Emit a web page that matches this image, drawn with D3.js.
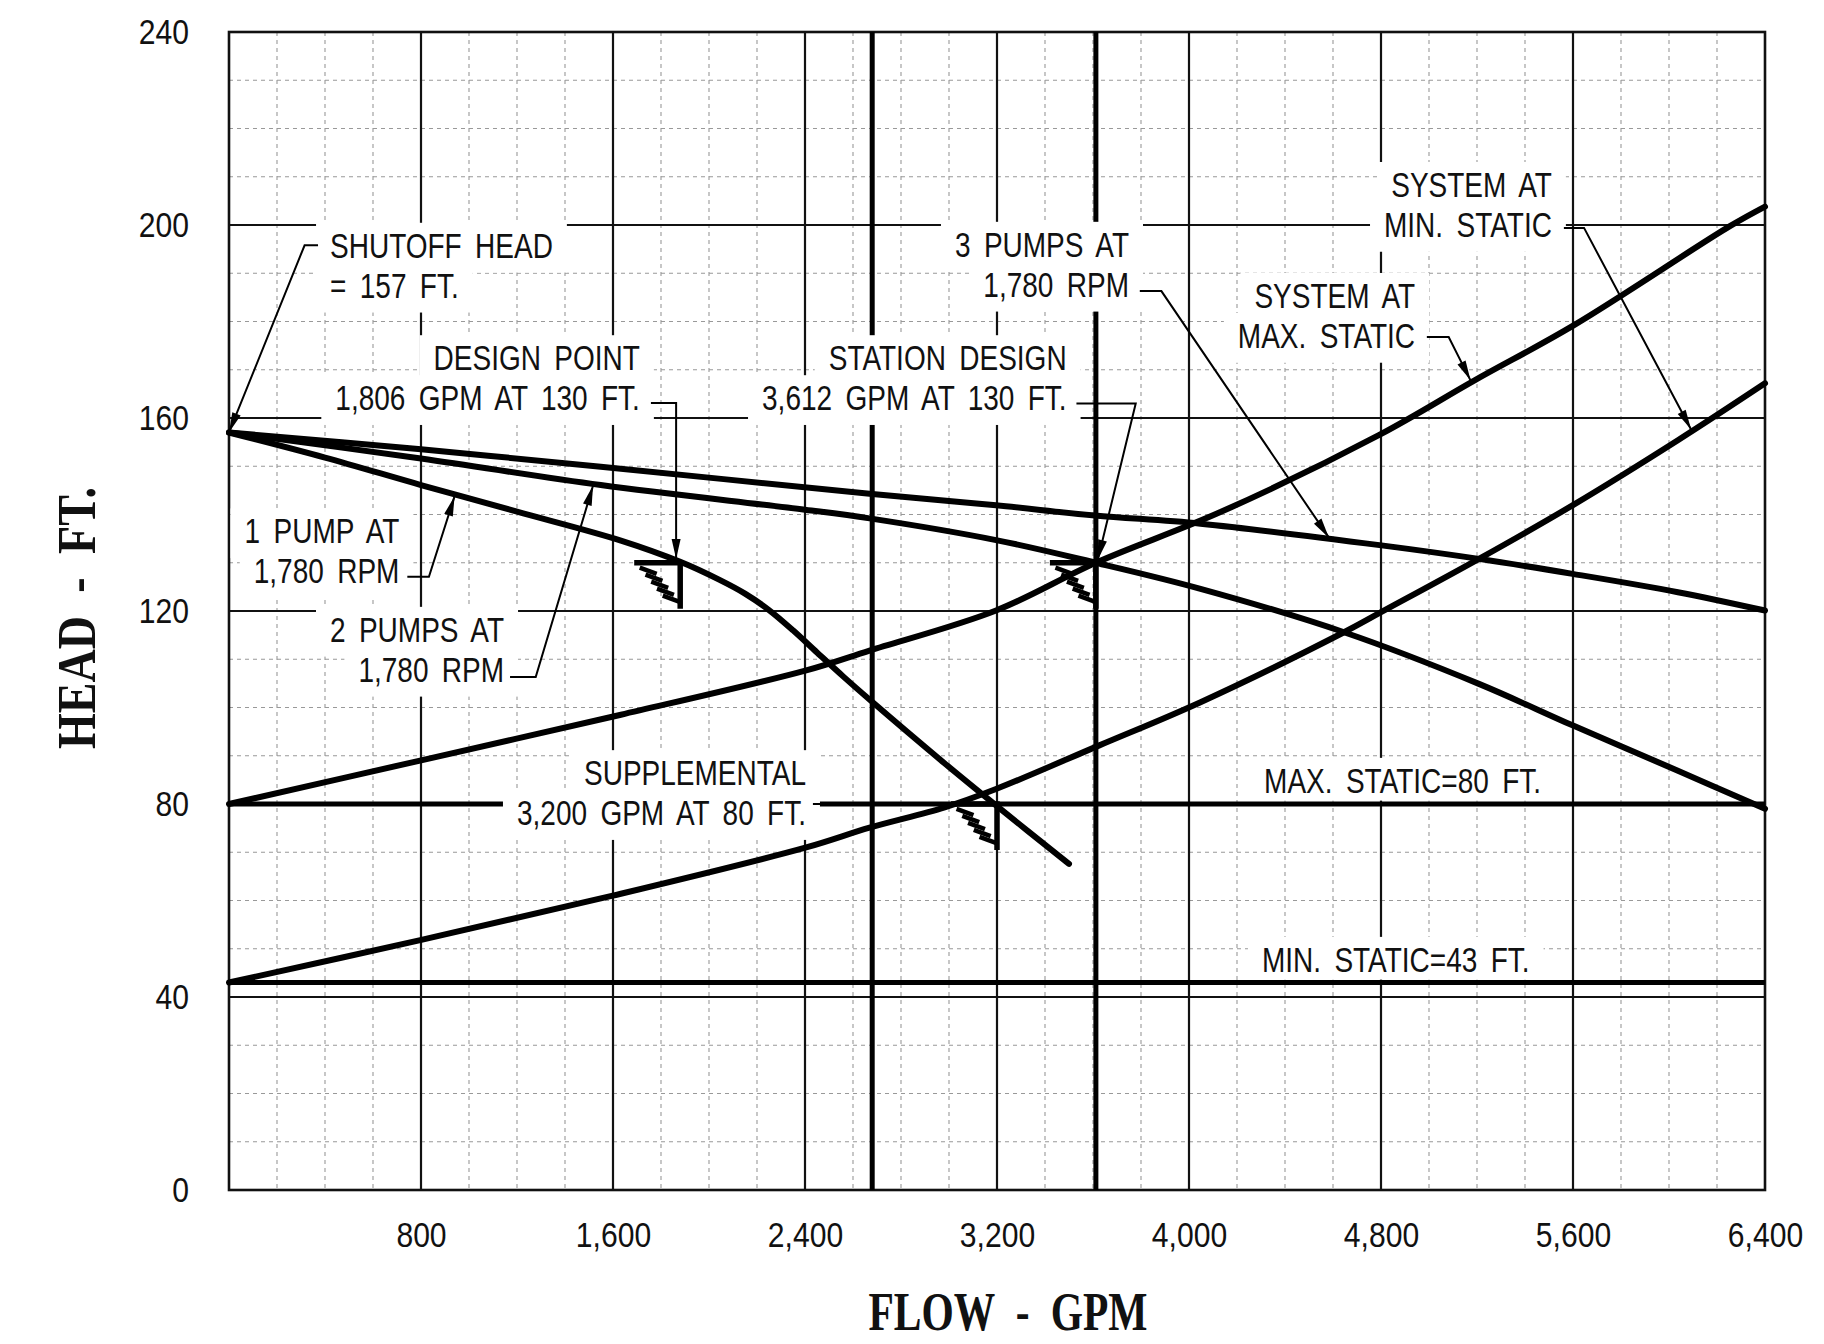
<!DOCTYPE html>
<html><head><meta charset="utf-8">
<script src="https://cdn.jsdelivr.net/npm/d3@7"></script>
<style>
html,body{margin:0;padding:0;background:#fff;}
svg{display:block;background:#fff;}
.tick text,.ann{font-family:'Liberation Sans',Arial,sans-serif;font-size:35px;fill:#111;}
.ann{word-spacing:7px;}
.title{font-family:'Liberation Serif','DejaVu Serif',serif;font-weight:bold;font-size:54px;fill:#111;word-spacing:14px;}
</style></head><body>
<svg id="chart" width="1824" height="1344"></svg>
<script>
// ---------------- DATA ----------------
const xTicks = [800, 1600, 2400, 3200, 4000, 4800, 5600, 6400];
const yTicks = [0, 40, 80, 120, 160, 200, 240];

// pump curves [GPM, head ft]
const onePump = [[0,157],[400,151.8],[800,146.1],[1200,140.6],[1633,134.6],[1880,130.2],[2042,126.5],[2150,123.6],[2250,120.2],[2350,116.0],[2450,111.4],[2560,106.4],[2670,101.6],[2980,88.5],[3196,79.7],[3500,67.6]];
const twoPumps = [[0,157],[800,151.6],[1549,146.1],[2400,141],[2669,139.2],[3196,134.7],[3612,130],[4048,124.6],[4646,115.6],[5208,104.9],[5598,96.3],[6037,86.9],[6400,79]];
const threePumps = [[0,157],[800,153.5],[1549,149.9],[2669,144.3],[3196,141.9],[3607,139.8],[4048,138.1],[4802,133.6],[5208,130.8],[5598,127.7],[6037,123.9],[6400,120.1]];
// system curves
const systemMaxStatic = [[0,80],[796,89],[1633,98.5],[2405,107.7],[2669,111.8],[3196,120.1],[3612,130],[4131,140.5],[4793,156.5],[5190,167.8],[5606,179.3],[6252,199.7],[6400,203.8]];
const systemMinStatic = [[0,43],[797,51.8],[1599,61],[2405,71],[2669,75.1],[2982,79.3],[3196,83.1],[3624,92.1],[4048,101.1],[4646,115.6],[4802,119.8],[5208,130.8],[5598,141.9],[6037,155.4],[6400,167.2]];
// horizontal static heads, heavy vertical flow lines, hatched rating points
const staticHeads = [80, 43];
const referenceFlows = [2680, 3612];
const ratingPoints = [[1880,130],[3612,130],[3200,80]];

// annotation texts
const labelShutoff = ["SHUTOFF HEAD", "= 157 FT."];
const labelDesign = ["DESIGN POINT", "1,806 GPM AT 130 FT."];
const labelStation = ["STATION DESIGN", "3,612 GPM AT 130 FT."];
const labelThree = ["3 PUMPS AT", "1,780 RPM"];
const labelSysMin = ["SYSTEM AT", "MIN. STATIC"];
const labelSysMax = ["SYSTEM AT", "MAX. STATIC"];
const labelOne = ["1 PUMP AT", "1,780 RPM"];
const labelTwo = ["2 PUMPS AT", "1,780 RPM"];
const labelSupp = ["SUPPLEMENTAL", "3,200 GPM AT 80 FT."];
const labelMaxStatic = ["MAX. STATIC=80 FT."];
const labelMinStatic = ["MIN. STATIC=43 FT."];
const xTitle = "FLOW - GPM";
const yTitle = "HEAD - FT.";

// ---------------- LAYOUT ----------------
const plot = {left:229, right:1765, top:32, bottom:1190};
const lineGap = 40;
const textSX = 0.8;   // horizontal compression of the narrow drafting lettering
const tickSX = 0.86;
// annotation placement in data coordinates (first-line baseline anchor, leader path, arrow tip)
const annotations = [
  {lines:labelShutoff, anchor:"start", at:[421,193.2], leader:[[371,195.8],[315,195.8]], tip:[0,157]},
  {lines:labelDesign, anchor:"end", at:[1712,169.9], leader:[[1758,163.1],[1863,163.1]], tip:[1863,130.8]},
  {lines:labelStation, anchor:"end", at:[3490,169.9], leader:[[3531,163.0],[3778,163.0]], tip:[3620,130.6]},
  {lines:labelThree, anchor:"end", at:[3750,193.4], leader:[[3795,186.3],[3885,186.3]], tip:[4583,135.2]},
  {lines:labelSysMin, anchor:"end", at:[5512,205.8], leader:[[5562,199.4],[5646,199.4]], tip:[6092,157.6]},
  {lines:labelSysMax, anchor:"end", at:[4942,182.8], leader:[[4991,176.8],[5082,176.8]], tip:[5173,167.8]},
  {lines:labelOne, anchor:"end", at:[710,134.0], leader:[[743,127.1],[833,127.1]], tip:[940,143.8]},
  {lines:labelTwo, anchor:"end", at:[1146,113.6], leader:[[1171,106.3],[1278,106.3]], tip:[1517,146.0]},
  {lines:labelSupp, anchor:"end", at:[2404,83.9], leader:[[2433,80],[3200,80]], tip:null},
  {lines:labelMaxStatic, anchor:"start", at:[4313,82.3], leader:null, tip:null, padBottom:0},
  {lines:labelMinStatic, anchor:"start", at:[4304,45.2], leader:null, tip:null, padBottom:0}
];

// ---------------- DRAW ----------------
const svg = d3.select('#chart');
const x = d3.scaleLinear().domain([0,6400]).range([plot.left, plot.right]);
const y = d3.scaleLinear().domain([0,240]).range([plot.bottom, plot.top]);

const gGrid = svg.append('g');
// minor grid
const minorX = d3.range(200, 6400, 200).filter(v => v % 800 !== 0);
const minorY = d3.range(10, 240, 10).filter(v => v % 40 !== 0);
gGrid.selectAll('line.mx').data(minorX).join('line')
  .attr('x1', d => x(d)).attr('x2', d => x(d)).attr('y1', y(240)).attr('y2', y(0))
  .attr('stroke', '#999').attr('stroke-width', 1.1).attr('stroke-dasharray', '4,4');
gGrid.selectAll('line.my').data(minorY).join('line')
  .attr('x1', x(0)).attr('x2', x(6400)).attr('y1', d => y(d)).attr('y2', d => y(d))
  .attr('stroke', '#999').attr('stroke-width', 1.1).attr('stroke-dasharray', '4,4');
// major grid
gGrid.selectAll('line.Mx').data(xTicks.filter(v => v < 6400)).join('line')
  .attr('x1', d => x(d)).attr('x2', d => x(d)).attr('y1', y(240)).attr('y2', y(0))
  .attr('stroke', '#111').attr('stroke-width', 2.2);
gGrid.selectAll('line.My').data(yTicks.filter(v => v > 0 && v < 240)).join('line')
  .attr('x1', x(0)).attr('x2', x(6400)).attr('y1', d => y(d)).attr('y2', d => y(d))
  .attr('stroke', '#111').attr('stroke-width', 2.2);
// frame
gGrid.append('rect').attr('x', x(0)).attr('y', y(240)).attr('width', x(6400)-x(0)).attr('height', y(0)-y(240))
  .attr('fill', 'none').attr('stroke', '#111').attr('stroke-width', 2.6);

// heavy reference lines
const gHeavy = svg.append('g');
gHeavy.selectAll('line.rf').data(referenceFlows).join('line')
  .attr('x1', d => x(d)).attr('x2', d => x(d)).attr('y1', y(240)).attr('y2', y(0))
  .attr('stroke', '#000').attr('stroke-width', 5);
gHeavy.selectAll('line.st').data(staticHeads).join('line')
  .attr('x1', x(0)).attr('x2', x(6400)).attr('y1', d => y(d)).attr('y2', d => y(d))
  .attr('stroke', '#000').attr('stroke-width', 5);

// axes
const yAxis = d3.axisLeft(y).tickValues(yTicks).tickSize(0).tickPadding(40).tickFormat(d3.format(','));
const xAxis = d3.axisBottom(x).tickValues(xTicks).tickSize(0).tickPadding(32).tickFormat(d3.format(','));
const gy = svg.append('g').attr('transform', `translate(${plot.left},0)`).call(yAxis);
const gx = svg.append('g').attr('transform', `translate(0,${plot.bottom})`).call(xAxis);
gy.select('.domain').remove(); gx.select('.domain').remove();
gy.selectAll('text').attr('fill', '#111').attr('x', -40 / tickSX).attr('transform', `scale(${tickSX},1)`);
gx.selectAll('text').attr('fill', '#111').attr('transform', `scale(${tickSX},1)`);

// axis titles
svg.append('text').attr('class', 'title').attr('x', 1008).attr('y', 1330).attr('text-anchor', 'middle')
  .attr('textLength', 279).attr('lengthAdjust', 'spacingAndGlyphs').text(xTitle);
svg.append('text').attr('class', 'title').attr('text-anchor', 'middle')
  .attr('transform', 'translate(95,618) rotate(-90)')
  .attr('textLength', 262).attr('lengthAdjust', 'spacingAndGlyphs').text(yTitle);

// annotation texts with white knock-out backgrounds
const gBg = svg.append('g');
const gText = svg.append('g');
annotations.forEach(a => {
  a.lines.forEach((ln, i) => {
    const t = gText.append('text').attr('class', 'ann')
      .attr('transform', `translate(${x(a.at[0])},${y(a.at[1]) + i * lineGap}) scale(${textSX},1)`)
      .attr('text-anchor', a.anchor).text(ln);
    const b = t.node().getBoundingClientRect();
    const pad = 14, pb = (a.padBottom === undefined ? 7 : a.padBottom);
    gBg.append('rect').attr('x', b.left - pad).attr('y', b.top - 3)
      .attr('width', b.width + 2 * pad).attr('height', b.height + 3 + pb)
      .attr('fill', '#fff');
  });
});

// curves
const line = d3.line().x(d => x(d[0])).y(d => y(d[1])).curve(d3.curveCatmullRom.alpha(0.5));
const gCurves = svg.append('g');
[onePump, twoPumps, threePumps, systemMaxStatic, systemMinStatic].forEach(s => {
  gCurves.append('path').datum(s).attr('d', line)
    .attr('fill', 'none').attr('stroke', '#000').attr('stroke-width', 6)
    .attr('stroke-linejoin', 'round').attr('stroke-linecap', 'round');
});

// hatched rating point markers (corner + short heavy slanted hatch strokes)
const gHatch = svg.append('g');
ratingPoints.forEach(p => {
  const px = x(p[0]), py = y(p[1]), L = 46;
  gHatch.append('path').attr('d', `M${px - L},${py}H${px}V${py + L}`)
    .attr('fill', 'none').attr('stroke', '#000').attr('stroke-width', 5.5);
  const bAng = 20 * Math.PI / 180, hl = 9;
  const s0 = [px - 32, py + 8], s1 = [px - 9, py + 36];
  for (let i = 0; i < 5; i++) {
    const t = i / 4;
    const cx = s0[0] + t * (s1[0] - s0[0]), cy = s0[1] + t * (s1[1] - s0[1]);
    gHatch.append('line')
      .attr('x1', cx - hl * Math.cos(bAng)).attr('y1', cy - hl * Math.sin(bAng))
      .attr('x2', cx + hl * Math.cos(bAng)).attr('y2', cy + hl * Math.sin(bAng))
      .attr('stroke', '#000').attr('stroke-width', 4.5).attr('stroke-linecap', 'butt');
  }
});

// leaders and arrowheads
const gLead = svg.append('g');
annotations.forEach(a => {
  if (!a.leader) return;
  const pts = a.leader.concat(a.tip ? [a.tip] : []).map(d => [x(d[0]), y(d[1])]);
  gLead.append('path').attr('d', d3.line()(pts)).attr('fill', 'none')
    .attr('stroke', '#000').attr('stroke-width', 2);
  if (a.tip) {
    const tp = pts[pts.length - 1], fp = pts[pts.length - 2];
    const ang = Math.atan2(tp[1] - fp[1], tp[0] - fp[0]);
    const AL = 20, AW = 4.5;
    const bx = tp[0] - AL * Math.cos(ang), by = tp[1] - AL * Math.sin(ang);
    const nx = -Math.sin(ang), ny = Math.cos(ang);
    gLead.append('path')
      .attr('d', `M${tp[0]},${tp[1]}L${bx + AW * nx},${by + AW * ny}L${bx - AW * nx},${by - AW * ny}Z`)
      .attr('fill', '#000');
  }
});
</script>
</body></html>
